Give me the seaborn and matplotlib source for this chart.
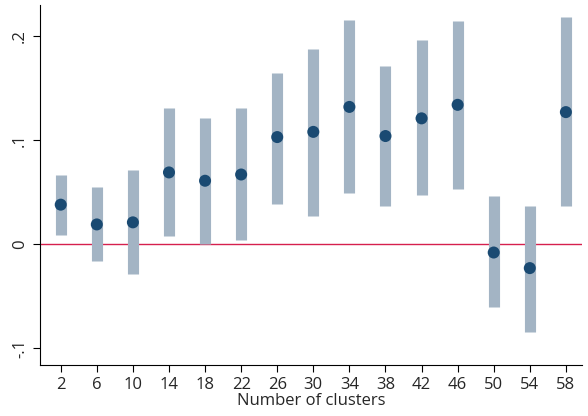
import matplotlib
matplotlib.use("Agg")
import matplotlib.pyplot as plt
import seaborn as sns
import pandas as pd

clusters = [2, 6, 10, 14, 18, 22, 26, 30, 34, 38, 42, 46, 50, 54, 58]
estimate = [0.038, 0.019, 0.021, 0.069, 0.061, 0.067, 0.103, 0.108, 0.132, 0.104, 0.121, 0.134, -0.008, -0.023, 0.127]
ci_low = [0.009, -0.016, -0.029, 0.008, 0.000, 0.004, 0.039, 0.027, 0.049, 0.037, 0.047, 0.053, -0.060, -0.084, 0.037]
ci_high = [0.067, 0.055, 0.071, 0.131, 0.121, 0.131, 0.165, 0.188, 0.216, 0.171, 0.196, 0.215, 0.046, 0.037, 0.218]

df = pd.DataFrame({"clusters": clusters, "est": estimate, "lo": ci_low, "hi": ci_high})

sns.set_style("white")
plt.rcParams["font.family"] = ["Open Sans", "DejaVu Sans"]

fig, ax = plt.subplots(figsize=(5.88, 4.16), dpi=100)
fig.subplots_adjust(left=0.068, right=0.99, top=0.988, bottom=0.123)

ax.vlines(df["clusters"], df["lo"], df["hi"], color="#a3b4c4", linewidth=8, zorder=1)
ax.axhline(0, color="#d6204e", linewidth=1, zorder=0)
sns.scatterplot(data=df, x="clusters", y="est", ax=ax, color="#1a4a72", s=75,
                edgecolor="none", zorder=3)

ax.set_xlim(-0.3, 59.8)
ax.set_ylim(-0.116, 0.23)
ax.set_xticks(clusters)
ax.set_yticks([-0.1, 0, 0.1, 0.2])
ax.set_yticklabels(["-.1", "0", ".1", ".2"], rotation=90, va="center")
ax.tick_params(axis="both", labelsize=12, length=5, width=0.8, color="black", bottom=True, left=True)
ax.set_xlabel("Number of clusters", fontsize=12, labelpad=0)
ax.set_ylabel("")
for s in ["top", "right"]:
    ax.spines[s].set_visible(False)
for s in ["left", "bottom"]:
    ax.spines[s].set_color("black")
    ax.spines[s].set_linewidth(0.8)

fig.savefig("out.png", dpi=100)
